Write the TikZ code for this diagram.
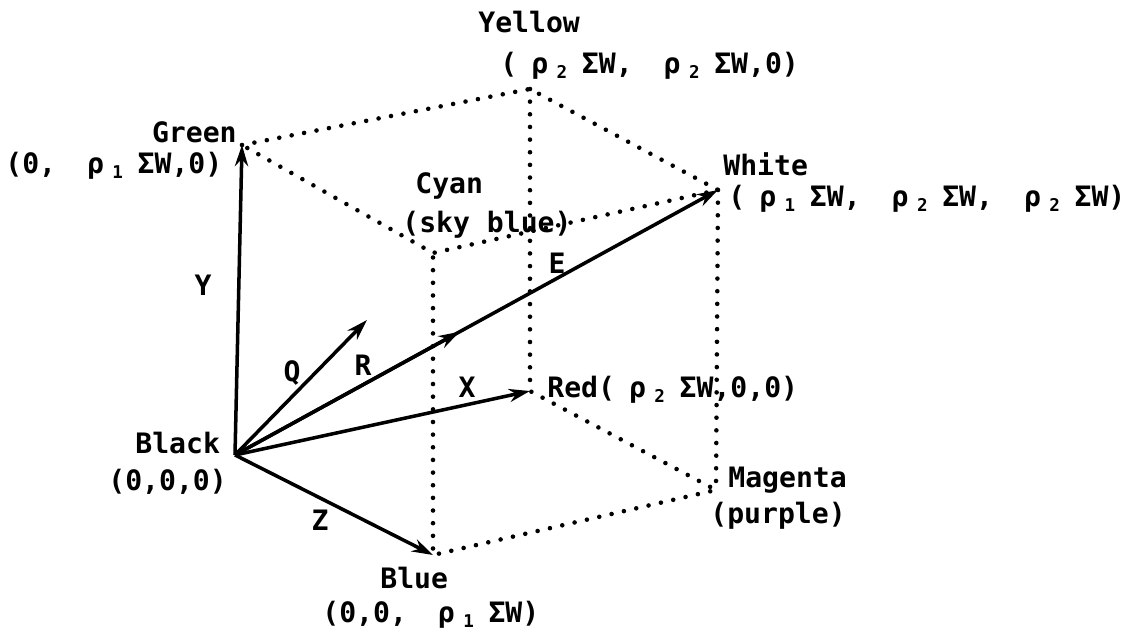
\documentclass[tikz,border=0pt]{standalone}
\usepackage{fontspec}
\setmainfont{DejaVu Sans Mono}
\usetikzlibrary{arrows.meta,calc}
\newcommand{\rw}[1]{\makebox[2.3em][l]{\hspace{0.5em}ρ\hspace{0.3em}\raisebox{-0.35ex}{\fontsize{10}{10}\selectfont #1}}ΣW}

\begin{document}
\begin{tikzpicture}[x=0.02cm, y=-0.02cm, >={Stealth[length=12pt,width=7.5pt]},
    vec/.style={line width=2pt, ->},
    hidden/.style={line width=2.6pt, line cap=round, dash pattern=on 0pt off 7.2pt},
    lbl/.style={font=\bfseries\fontsize{16}{19}\selectfont, inner sep=0pt, anchor=base west},
    sym/.style={font=\bfseries\fontsize{16}{19}\selectfont, inner sep=0pt}]
        \useasboundingbox (0,0) rectangle (1127,636);
        % cube corners
        \coordinate (black) at (235,455);
        \coordinate (green) at (242,145);
        \coordinate (yellow) at (530,89);
        \coordinate (cyan) at (433,253);
        \coordinate (white) at (718,190);
        \coordinate (red) at (530,391);
        \coordinate (magenta) at (716,490);
        \coordinate (blue) at (433,555);
        \coordinate (qtip) at (367,320);
        \coordinate (rtip) at ($(black)!0.465!(white)$);
        % hidden edges
        \draw[hidden] (green) -- (yellow) -- (white) -- (cyan) -- (green);
        \draw[hidden] (yellow) -- (red) -- (magenta) -- (blue) -- (cyan);
        \draw[hidden] (white) -- (magenta);
        % vectors
        \draw[vec] (black) -- (green);
        \draw[vec] (black) -- (blue);
        \draw[vec] (black) -- (red);
        \draw[vec] (black) -- (white);
        \draw[vec] (black) -- (rtip);
        \draw[vec] (black) -- (qtip);
        \node[sym] (ylab) at (203,285) {Y};
        \node[sym] (qlab) at (292,373) {Q};
        \node[sym] (rlab) at (363,365) {R};
        \node[sym] (xlab) at (467,387) {X};
        \node[sym] (elab) at (557,263) {E};
        \node[sym] (zlab) at (320,520) {Z};
        % corner labels
        \node[lbl] (ylw) at (478,32) {Yellow};
        \node[lbl] (ylwxyz) at (500,73) {(\rw{2}, \rw{2},0)};
        \node[lbl, anchor=base east] (grn) at (237,142) {Green};
        \node[lbl] (grnxyz) at (5,173) {(0, \rw{1},0)};
        \node[lbl] (cyn) at (415,193) {Cyan};
        \node[lbl] (cynalt) at (402,232) {(sky blue)};
        \node[lbl] (wht) at (723,175) {White};
        \node[lbl] (whtxyz) at (728,206) {(\rw{1}, \rw{2}, \rw{2})};
        \node[lbl] (redxyz) at (547,397) {Red(\rw{2},0,0)};
        \node[lbl] (mgt) at (728,487) {Magenta};
        \node[lbl] (mgtalt) at (710,523) {(purple)};
        \node[lbl] (blk) at (135,453) {Black};
        \node[lbl] (blkxyz) at (108,490) {(0,0,0)};
        \node[lbl] (blu) at (380,588) {Blue};
        \node[lbl] (bluxyz) at (322,622) {(0,0, \rw{1})};
    \end{tikzpicture}
\end{document}
